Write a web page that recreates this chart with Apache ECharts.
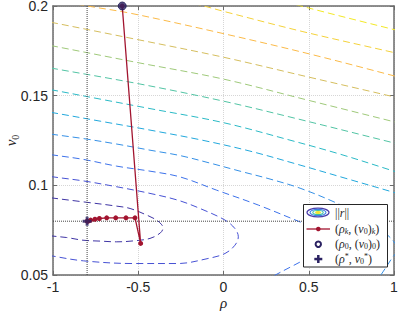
<!DOCTYPE html>
<html><head><meta charset="utf-8">
<script src="https://cdn.jsdelivr.net/npm/echarts@6/dist/echarts.min.js"></script>
<style>html,body{margin:0;padding:0;background:#fff}#c{width:399px;height:311px}</style>
</head><body><div id="c"></div>
<script>
// ---- data ----
const xTicks = [-1, -0.5, 0, 0.5, 1];
const yTicks = [0.05, 0.1, 0.15, 0.2];

// contour lines of ||r||, innermost first: [rho, v0]
const contour1 = [[-1.076,0.0940],[-1.0,0.0929],[-0.824,0.0908],[-0.626,0.0884],[-0.548,0.0871],[-0.450,0.0834],[-0.392,0.0806],[-0.362,0.0780],[-0.355,0.0762],[-0.370,0.0735],[-0.431,0.0704],[-0.531,0.0690],[-0.626,0.0685],[-0.724,0.0689],[-0.824,0.0694],[-0.920,0.0709],[-1.0,0.0717],[-1.076,0.0728]];
const contour2 = [[-1.076,0.1060],[-0.998,0.1047],[-0.824,0.1025],[-0.626,0.0992],[-0.431,0.0955],[-0.267,0.0917],[-0.138,0.0871],[0.009,0.0806],[0.067,0.0759],[0.087,0.0713],[0.067,0.0666],[0.009,0.0620],[-0.091,0.0592],[-0.267,0.0564],[-0.529,0.0564],[-0.822,0.0579],[-0.998,0.0605],[-1.076,0.0620]];
const contour3 = [[-1.076,0.1180],[-0.998,0.1169],[-0.824,0.1145],[-0.626,0.1107],[-0.431,0.1079],[-0.255,0.1047],[-0.040,0.0973],[0.204,0.0890],[0.449,0.0796],[0.554,0.0756],[0.625,0.0717],[0.648,0.0677],[0.613,0.0638],[0.507,0.0599],[0.390,0.0543],[0.302,0.0499],[0.226,0.0460]];
const contour4 = [[-1.076,0.1296],[-1.0,0.1284],[-0.824,0.1261],[-0.625,0.1230],[-0.431,0.1196],[-0.255,0.1166],[-0.079,0.1124],[0.097,0.1079],[0.273,0.1035],[0.449,0.0984],[0.664,0.0901],[0.801,0.0834],[0.930,0.0750],[1.006,0.0677],[1.018,0.0638],[0.988,0.0594],[0.953,0.0543],[0.918,0.0493]];
const contour5 = [[-1.076,0.1417],[-1.0,0.1405],[-0.724,0.1358],[-0.431,0.1308],[-0.126,0.1252],[0.155,0.1191],[0.449,0.1113],[0.713,0.1040],[0.994,0.0962],[1.06,0.0942]];
const contour6 = [[-1.076,0.1543],[-1.0,0.1531],[-0.724,0.1481],[-0.431,0.1428],[-0.003,0.1350],[0.390,0.1252],[0.683,0.1174],[1.0,0.1079],[1.06,0.1060]];
const contour7 = [[-1.076,0.1665],[-1.0,0.1652],[-0.490,0.1565],[-0.003,0.1470],[0.390,0.1381],[1.006,0.1235],[1.06,0.1222]];
const contour8 = [[-1.076,0.1790],[-1.0,0.1777],[-0.490,0.1682],[-0.003,0.1593],[0.507,0.1472],[1.006,0.1353],[1.06,0.1340]];
const contour9 = [[-1.076,0.1920],[-1.0,0.1907],[-0.490,0.1810],[-0.003,0.1715],[0.507,0.1602],[1.006,0.1492],[1.06,0.1479]];
const contour10 = [[-1.05,0.2040],[-0.773,0.1996],[-0.537,0.1958],[0.009,0.1844],[0.507,0.1732],[1.006,0.1609],[1.06,0.1595]];
const contour11 = [[-0.30,0.2045],[-0.099,0.1996],[0.009,0.1968],[0.466,0.1857],[1.006,0.1739],[1.06,0.1727]];
const contour12 = [[0.30,0.2040],[0.507,0.1987],[0.994,0.1870],[1.06,0.1855]];

// iterates (rho_k, (v0)_k)
const iterRho = [-0.594, -0.486, -0.519, -0.572, -0.632, -0.685, -0.728, -0.754, -0.779, -0.793, -0.800];
const iterV0  = [0.2, 0.0676, 0.0819, 0.0819, 0.0819, 0.0819, 0.0815, 0.0811, 0.0806, 0.0800, 0.0800];
const startPoint = [-0.594, 0.2];
const optimum = [-0.8, 0.08];

// ---- styles ----
const contourColors = ['#3f34a4','#4752d4','#3d72ea','#3590e6','#22a8dc','#2bbac6','#52c4a4','#9fc97a','#d5be5e','#fbba48','#f4d23a','#f2e826'];
const contours = [contour1,contour2,contour3,contour4,contour5,contour6,contour7,contour8,contour9,contour10,contour11,contour12];
const axisColor = '#6b6b6b';
const txt = '#262626';

const series = contours.map((c, i) => ({
  type: 'line', data: c, smooth: 0.35, symbol: 'none', silent: true, z: 2,
  lineStyle: { color: contourColors[i], width: 1, type: [7, 4] }
}));
series.push({
  type: 'line', data: [[optimum[0], yTicks[0]], [optimum[0], yTicks[yTicks.length-1]]],
  symbol: 'none', silent: true, z: 3, lineStyle: { color: '#444', width: 1, type: 'dotted' }
});
series.push({
  type: 'line', data: [[xTicks[0], optimum[1]], [xTicks[xTicks.length-1], optimum[1]]],
  symbol: 'none', silent: true, z: 3, lineStyle: { color: '#444', width: 1, type: 'dotted' }
});
series.push({
  type: 'line', data: iterRho.map((r, i) => [r, iterV0[i]]), symbol: 'circle', symbolSize: 5,
  showAllSymbol: true, clip: false, z: 5,
  itemStyle: { color: '#a2142f' }, lineStyle: { color: '#a2142f', width: 1.3 }
});
series.push({
  type: 'scatter', data: [startPoint], symbol: 'circle', symbolSize: 8, clip: false, z: 6,
  itemStyle: { color: '#2b2262', borderColor: '#1d1750', borderWidth: 1 }
});
series.push({
  type: 'scatter', data: [optimum], clip: false, z: 6, symbolSize: 9,
  symbol: 'path://M-1.3,-4 h2.6 v2.7 h2.7 v2.6 h-2.7 v2.7 h-2.6 v-2.7 h-2.7 v-2.6 h2.7 z',
  itemStyle: { color: '#2b2262' }
});

const rich = {
  n: { fontFamily: 'Liberation Serif', fontSize: 12, lineHeight: 13, fill: txt },
  i: { fontFamily: 'Liberation Serif', fontStyle: 'italic', fontSize: 12, lineHeight: 13, fill: txt },
  si: { fontFamily: 'Liberation Serif', fontStyle: 'italic', fontSize: 8, lineHeight: 7, verticalAlign: 'bottom', fill: txt },
  s: { fontFamily: 'Liberation Serif', fontSize: 8, lineHeight: 7, verticalAlign: 'bottom', fill: txt },
  p: { fontFamily: 'Liberation Serif', fontSize: 8, lineHeight: 7, verticalAlign: 'top', fill: txt }
};
const legendRows = [
  '{n|||}{i|r}{n|||}',
  '{n|(}{i|ρ}{si|k}{n|, (}{i|v}{s|0}{n|)}{si|k}{n|)}',
  '{n|(}{i|ρ}{s|0}{n|, (}{i|v}{s|0}{n|)}{s|0}{n|)}',
  '{n|(}{i|ρ}{p|*}{n|, }{i|v}{s|0}{p|*}{n|)}'
];
const rowY = [212.5, 229, 244.3, 259];

const graphic = [
  { type: 'rect', z: 100, shape: { x: 303.5, y: 204.5, width: 84, height: 62.5 }, style: { fill: '#fff', stroke: txt, lineWidth: 1 } },
  { type: 'ellipse', z: 101, shape: { cx: 318, cy: 212.5, rx: 11, ry: 4.4 }, style: { fill: 'none', stroke: '#4b3ca8', lineWidth: 1.2 } },
  { type: 'ellipse', z: 101, shape: { cx: 318, cy: 212.5, rx: 8, ry: 3.1 }, style: { fill: 'none', stroke: '#3d7fe6', lineWidth: 1.1 } },
  { type: 'ellipse', z: 101, shape: { cx: 318, cy: 212.5, rx: 5.2, ry: 2 }, style: { fill: 'none', stroke: '#3dbfa0', lineWidth: 1.1 } },
  { type: 'ellipse', z: 101, shape: { cx: 318, cy: 212.5, rx: 2.6, ry: 1 }, style: { fill: '#f2e534', stroke: '#f2e534', lineWidth: 1 } },
  { type: 'line', z: 101, shape: { x1: 306.5, y1: 229, x2: 330, y2: 229 }, style: { stroke: '#a2142f', lineWidth: 1.3 } },
  { type: 'circle', z: 101, shape: { cx: 318.3, cy: 229, r: 2.3 }, style: { fill: '#a2142f' } },
  { type: 'circle', z: 101, shape: { cx: 318.3, cy: 244.3, r: 2.7 }, style: { fill: 'none', stroke: '#2b2262', lineWidth: 2 } },
  { type: 'rect', z: 101, shape: { x: 314.3, y: 257.8, width: 8, height: 2.5 }, style: { fill: '#2b2262' } },
  { type: 'rect', z: 101, shape: { x: 317.05, y: 255, width: 2.5, height: 8 }, style: { fill: '#2b2262' } }
];
legendRows.forEach((t, k) => {
  graphic.push({ type: 'text', z: 102, x: 335, y: rowY[k],
    style: { text: t, rich: rich, verticalAlign: 'middle', align: 'left', fill: txt } });
});

const axisCommon = {
  type: 'value', axisLine: { show: true, onZero: false, lineStyle: { color: axisColor, width: 1.5 } },
  axisTick: { show: true, inside: true, length: 4, lineStyle: { color: axisColor } }
};

const option = {
  animation: false,
  backgroundColor: '#fff',
  grid: { left: 53, right: 5, top: 6, bottom: 36, containLabel: false, outerBoundsMode: 'none' },
  xAxis: [
    Object.assign({}, axisCommon, {
      min: xTicks[0], max: xTicks[xTicks.length-1], interval: 0.5, position: 'bottom',
      axisLabel: { color: txt, fontSize: 14, fontFamily: 'Liberation Sans', margin: 5 },
      splitLine: { show: true, lineStyle: { color: '#d6d6d6', type: 'dotted', width: 1 } },
      name: 'ρ', nameLocation: 'middle', nameGap: 20, nameMoveOverlap: false,
      nameTextStyle: { fontFamily: 'Liberation Serif', fontStyle: 'italic', fontSize: 15, color: txt }
    }),
    Object.assign({}, axisCommon, {
      min: xTicks[0], max: xTicks[xTicks.length-1], interval: 0.5, position: 'top',
      axisLabel: { show: false }, splitLine: { show: false }
    })
  ],
  yAxis: [
    Object.assign({}, axisCommon, {
      min: yTicks[0], max: yTicks[yTicks.length-1], interval: 0.05, position: 'left',
      axisLabel: { color: txt, fontSize: 14, lineHeight: 12, fontFamily: 'Liberation Sans', margin: 5 },
      splitLine: { show: true, lineStyle: { color: '#d6d6d6', type: 'dotted', width: 1 } },
      name: '{i|v}{s|0}', nameLocation: 'middle', nameGap: 33, nameRotate: 90, nameMoveOverlap: false,
      nameTextStyle: { rich: {
        i: { fontFamily: 'Liberation Serif', fontStyle: 'italic', fontSize: 15, lineHeight: 18, color: txt },
        s: { fontFamily: 'Liberation Serif', fontSize: 10, lineHeight: 10, verticalAlign: 'bottom', color: txt }
      } }
    }),
    Object.assign({}, axisCommon, {
      min: yTicks[0], max: yTicks[yTicks.length-1], interval: 0.05, position: 'right',
      axisLabel: { show: false }, splitLine: { show: false }
    })
  ],
  series: series,
  graphic: graphic
};

const chart = echarts.init(document.getElementById('c'), null, { renderer: 'svg' });
chart.setOption(option);
</script>
</body></html>
